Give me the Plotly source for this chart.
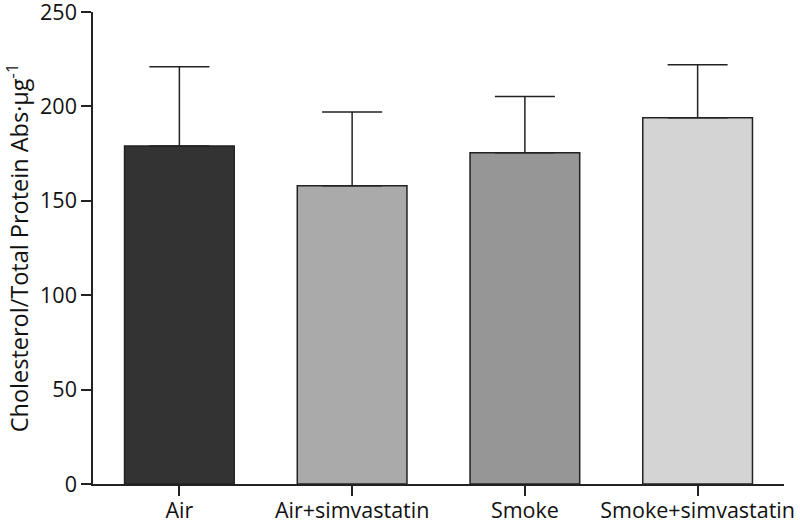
import plotly.graph_objects as go

categories = ["Air", "Air+simvastatin", "Smoke", "Smoke+simvastatin"]
means = [179, 158, 175.5, 194]
errors_up = [42, 39, 29.8, 28]
bar_colors = ["#333333", "#aaaaaa", "#969696", "#d4d4d4"]

fig = go.Figure()
fig.add_trace(go.Bar(
    x=categories,
    y=means,
    marker=dict(color=bar_colors, line=dict(color="#222222", width=1.5)),
    width=0.635,
    error_y=dict(type="data", symmetric=False, array=errors_up,
                 arrayminus=[0]*len(means),
                 color="#222222", thickness=1.5, width=30),
))

font_family = "Open Sans, Noto Sans, sans-serif"
fig.update_layout(
    width=800, height=524,
    margin=dict(l=93, r=16, t=12, b=40),
    plot_bgcolor="white", paper_bgcolor="white",
    showlegend=False,
    font=dict(family=font_family, size=22, color="#111111"),
    xaxis=dict(
        range=[-0.5, 3.5],
        automargin=False,
        showline=True, linecolor="#222222", linewidth=1.5,
        ticks="outside", ticklen=10, tickwidth=1.5, tickcolor="#222222",
        ticklabelstandoff=-4,
        showgrid=False, zeroline=False,
        tickfont=dict(size=21.5),
    ),
    yaxis=dict(
        range=[0, 250],
        automargin=False,
        tickvals=[0, 50, 100, 150, 200, 250],
        ticklabeloverflow="allow",
        showline=True, linecolor="#222222", linewidth=1.5,
        ticks="outside", ticklen=10, tickwidth=1.5, tickcolor="#222222",
        showgrid=False, zeroline=False,
        tickfont=dict(size=21.5),
        title=dict(text="Cholesterol/Total Protein Abs·µg<sup>-1</sup>",
                   font=dict(size=23.5), standoff=6),
    ),
)

fig.write_html("out.html", config={"displayModeBar": False},
               post_script="document.body.style.margin='0';")
